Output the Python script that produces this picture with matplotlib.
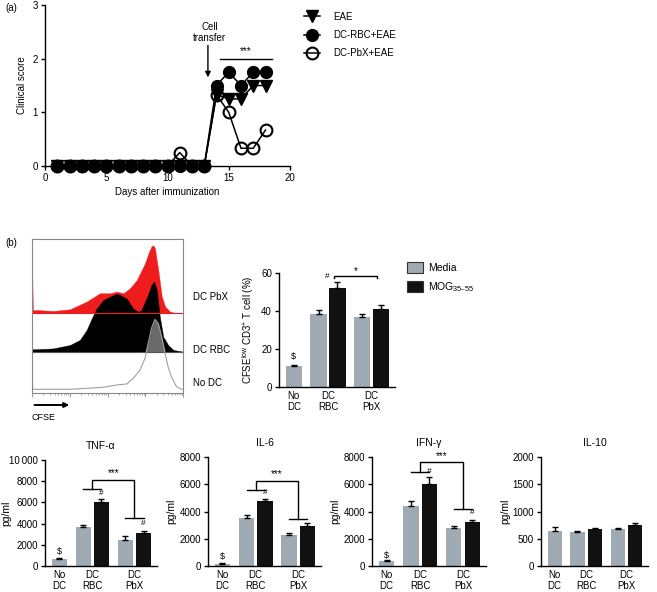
import numpy as np
import matplotlib
matplotlib.use("Agg")
import matplotlib.pyplot as plt
from matplotlib.patches import Patch, FancyArrowPatch
from matplotlib.ticker import FixedLocator, NullFormatter

plt.rcParams['font.family'] = ['Liberation Sans', 'DejaVu Sans']
plt.rcParams['font.size'] = 7
plt.rcParams['axes.linewidth'] = 1.0
plt.rcParams['xtick.major.width'] = 1.0
plt.rcParams['ytick.major.width'] = 1.0
plt.rcParams['xtick.direction'] = 'out'
plt.rcParams['ytick.direction'] = 'out'

W, H = 657, 592
GRAY = '#a0aab2'

# ---- (a) clinical score
days = list(range(1, 19))
eae = [0] * 13 + [1.33, 1.25, 1.25, 1.5, 1.5]
dc_rbc = [0] * 13 + [1.5, 1.75, 1.5, 1.75, 1.75]
dc_pbx = [0] * 10 + [0.25, 0, 0, 1.33, 1.0, 0.33, 0.33, 0.67]

# ---- (b) CFSE histograms (x in decades, height in px above track baseline)
red_dec = [0, 0.03, 0.13, 0.57, 1.01, 1.45, 1.80, 2.07, 2.24, 2.42, 2.59, 2.77, 2.86, 2.99,
           3.08, 3.16, 3.21, 3.25, 3.34, 3.43, 3.52, 3.65, 3.82, 4.0]
red_h = [74, 3, 3.3, 2.3, 4, 11.7, 20, 20, 21.7, 20, 25, 33, 40, 50,
         60, 67, 68, 65, 43, 17, 6.7, 1.7, 0, 0]
blk_dec = [0, 0.03, 0.57, 1.01, 1.27, 1.45, 1.58, 1.71, 1.89, 2.07, 2.24, 2.33, 2.51, 2.68,
           2.81, 2.90, 2.99, 3.08, 3.16, 3.23, 3.30, 3.38, 3.47, 3.60, 3.74, 4.0]
blk_h = [4, 2.3, 3.3, 6.7, 11.7, 21.7, 33, 43, 51.7, 55, 58, 56.7, 53, 43,
         40, 41.7, 50, 58, 66.7, 70, 61.7, 35, 15, 6.7, 1.7, 0]
gry_dec = [0, 0.03, 0.13, 1.01, 1.89, 2.24, 2.51, 2.68, 2.86, 2.99, 3.08, 3.16, 3.25, 3.34,
           3.43, 3.52, 3.60, 3.69, 3.82, 3.96, 4.0]
gry_h = [20, 0.7, 0.7, 0.7, 2.7, 5, 6, 11.7, 20, 31.7, 48, 61.7, 70.7, 66.7,
         53, 36.7, 23, 13, 3.3, 0.7, 0.5]
track_names = ['DC PbX', 'DC RBC', 'No DC']

# ---- bar charts
groups = ['No\nDC', 'DC\nRBC', 'DC\nPbX']
prolif_media = [11, 38.5, 37]
prolif_media_err = [0.5, 1.8, 1.6]
prolif_mog = [52, 41]
prolif_mog_err = [3.2, 2.2]

cyto_names = ['TNF-α', 'IL-6', 'IFN-γ', 'IL-10']
cyto_media = [[650, 3700, 2500], [150, 3500, 2300], [400, 4400, 2800], [650, 620, 670]]
cyto_media_err = [[80, 150, 300], [60, 250, 150], [50, 400, 150], [60, 15, 20]]
cyto_mog = [[6050, 3100], [4800, 2900], [6000, 3200], [680, 750]]
cyto_mog_err = [[300, 200], [150, 250], [550, 200], [15, 40]]
cyto_ymax = [10000, 8000, 8000, 2000]
cyto_ystep = [2000, 2000, 2000, 500]
# bracket levels: [top, rbc group, pbx group] or None
cyto_brackets = [[8100, 7300, 4550], [6270, 5590, 3450], [7600, 6890, 4170], None]
cyto_hash = [[6800, 4050], [5370, None], [6900, 3900], None]
cyto_dollar = [1350, 690, 800, None]

pos_media = [0, 1.33, 3.68]
pos_mog = [2.35, 4.7]
pos_ticks = [0, 1.84, 4.19]


def box(l, t, r, b):
    return [l / W, 1 - b / H, (r - l) / W, (b - t) / H]


def prism(ax):
    for s in ['top', 'right']:
        ax.spines[s].set_visible(False)
    ax.tick_params(length=3, pad=2)


fig = plt.figure(figsize=(W / 100, H / 100), dpi=100)

# ================= (a)
ax = fig.add_axes(box(45, 5, 290, 166))
prism(ax)
ms = 8.5
ax.plot(days, eae, color='black', lw=1.1, marker='v', ms=ms, clip_on=False)
ax.plot(days, dc_rbc, color='black', lw=1.1, marker='o', ms=ms, clip_on=False)
ax.plot(days, dc_pbx, color='black', lw=1.1, marker='o', ms=ms, mfc='none', mew=1.5,
        clip_on=False)
ax.set_xlim(0, 20)
ax.set_ylim(0, 3)
ax.set_xticks([0, 5, 10, 15, 20])
ax.set_yticks([0, 1, 2, 3])
ax.set_xlabel('Days after immunization', labelpad=3)
ax.set_ylabel('Clinical score', labelpad=4)
ax.annotate('', xy=(13.3, 1.6), xytext=(13.3, 2.3),
            arrowprops=dict(arrowstyle='-|>', color='black', lw=1.0, mutation_scale=8))
ax.text(13.45, 2.49, 'Cell\ntransfer', ha='center', va='center', linespacing=1.2)
ax.plot([14.3, 18.5], [1.99, 1.99], color='black', lw=1.0)
ax.text(16.4, 2.05, '***', ha='center', va='bottom')
fig.legend(handles=ax.get_lines(), labels=['EAE', 'DC-RBC+EAE', 'DC-PbX+EAE'],
           loc='upper left', bbox_to_anchor=(300 / W, 1 - 8 / H), frameon=False,
           handlelength=1.7, labelspacing=0.85, handletextpad=1.3, borderaxespad=0)
fig.text(5 / W, 1 - 8 / H, '(a)', ha='left', va='center')

# ================= (b) histogram
axh = fig.add_axes(box(31.7, 239.3, 183.3, 393.3))
b_red, b_blk, b_gry = 80, 41.6, 3.3
axh.set_xscale('log')
axh.set_xlim(1, 1e4)
axh.set_ylim(0, 154)
x = 10 ** np.array(red_dec)
axh.fill_between(x, b_red, b_red + np.array(red_h), color='#ee1c1c', lw=0.3)
x = 10 ** np.array(blk_dec)
axh.fill_between(x, b_blk, b_blk + np.array(blk_h), color='black', lw=0.3)
axh.axhline(b_red, color='#ee1c1c', lw=0.8)
axh.axhline(b_blk, color='#555555', lw=0.8)
x = 10 ** np.array(gry_dec)
yg = b_gry + np.array(gry_h)
axh.fill_between(x, b_blk, np.maximum(yg, b_blk), color='#6a6a6a', lw=0)
axh.plot(x, yg, color='#a0a0a0', lw=0.8)
for s in axh.spines.values():
    s.set_color('#888888')
    s.set_linewidth(0.8)
axh.set_yticks([])
axh.xaxis.set_major_locator(FixedLocator([1, 10, 100, 1000, 10000]))
axh.xaxis.set_minor_locator(FixedLocator([m * 10 ** e for e in range(4) for m in range(2, 10)]))
axh.xaxis.set_major_formatter(NullFormatter())
axh.xaxis.set_minor_formatter(NullFormatter())
axh.tick_params(axis='x', which='major', length=3, width=0.6, color='#888888')
axh.tick_params(axis='x', which='minor', length=1.5, width=0.5, color='#888888')
for name, yy in zip(track_names, [297, 350, 383]):
    fig.text(193 / W, 1 - yy / H, name, ha='left', va='center', fontsize=7)
fig.text(5 / W, 1 - 243 / H, '(b)', ha='left', va='center')
fig.add_artist(FancyArrowPatch(
    (31.7 / W, 1 - 405 / H), (72 / W, 1 - 405 / H), transform=fig.transFigure,
    arrowstyle='-|>', mutation_scale=7, lw=1.4, color='black'))
fig.text(32 / W, 1 - 417 / H, 'CFSE', ha='left', va='center', fontsize=6.5)

# ================= (b) proliferation bars
axb = fig.add_axes(box(279, 273, 395, 387))
prism(axb)
axb.bar(pos_media, prolif_media, width=0.88, color=GRAY)
axb.bar(pos_mog, prolif_mog, width=0.88, color='#111111')
axb.errorbar(pos_media, prolif_media, yerr=[[0] * 3, prolif_media_err], fmt='none',
             ecolor='black', elinewidth=1.0, capsize=2.5, capthick=1.0)
axb.errorbar(pos_mog, prolif_mog, yerr=[[0] * 2, prolif_mog_err], fmt='none',
             ecolor='black', elinewidth=1.0, capsize=2.5, capthick=1.0)
axb.set_xlim(-0.8, 5.45)
axb.set_ylim(0, 60)
axb.set_yticks([0, 20, 40, 60])
axb.set_xticks(pos_ticks)
axb.set_xticklabels(groups, linespacing=1.1)
axb.tick_params(axis='x', length=0, pad=3)
axb.set_ylabel('CFSE$^{\\mathregular{low}}$ CD3$^{\\mathregular{+}}$ T cell (%)', labelpad=4)
axb.text(pos_media[0], 13.5, '$', ha='center', va='bottom', fontsize=6.5)
axb.text(pos_mog[0] - 0.55, 56.5, '#', ha='center', va='bottom', fontsize=6)
axb.plot([pos_mog[0] - 0.2, pos_mog[0] - 0.2, pos_mog[1] - 0.2, pos_mog[1] - 0.2],
         [57.2, 58.2, 58.2, 57.2], color='black', lw=1.0)
axb.text((pos_mog[0] + pos_mog[1]) / 2 - 0.2, 58.6, '*', ha='center', va='bottom')
fig.legend(handles=[Patch(facecolor=GRAY, edgecolor='#333333', lw=0.8),
                    Patch(facecolor='#111111', edgecolor='#333333', lw=0.8)],
           labels=['Media', 'MOG$_{\\mathregular{35–55}}$'], loc='upper left',
           bbox_to_anchor=(403 / W, 1 - 258 / H), frameon=False, fontsize=7.5,
           handlelength=1.5, handleheight=1.2, labelspacing=0.7, handletextpad=0.5,
           borderaxespad=0)

# ================= cytokines
boxes = [(45, 460, 157, 566), (208, 457, 321, 566), (372, 457, 486, 566), (541, 457, 648, 566)]
label_x = [-0.30, -0.28, -0.28, -0.29]
for i, name in enumerate(cyto_names):
    axc = fig.add_axes(box(*boxes[i]))
    prism(axc)
    axc.bar(pos_media, cyto_media[i], width=0.84, color=GRAY)
    axc.bar(pos_mog, cyto_mog[i], width=0.84, color='#111111')
    axc.errorbar(pos_media, cyto_media[i], yerr=[[0] * 3, cyto_media_err[i]], fmt='none',
                 ecolor='black', elinewidth=1.0, capsize=2.3, capthick=1.0)
    axc.errorbar(pos_mog, cyto_mog[i], yerr=[[0] * 2, cyto_mog_err[i]], fmt='none',
                 ecolor='black', elinewidth=1.0, capsize=2.3, capthick=1.0)
    axc.set_xlim(-0.8, 5.45)
    axc.set_ylim(0, cyto_ymax[i])
    ticks = list(range(0, cyto_ymax[i] + 1, cyto_ystep[i]))
    axc.set_yticks(ticks)
    axc.set_yticklabels(['10\u2009000' if t == 10000 else str(t) for t in ticks])
    axc.set_xticks(pos_ticks)
    axc.set_xticklabels(groups, linespacing=1.1)
    axc.tick_params(axis='x', length=0, pad=3)
    axc.set_ylabel('pg/ml', fontsize=7.5)
    axc.yaxis.set_label_coords(label_x[i], 0.5)
    axc.set_title(name, fontsize=7.5, pad=8)
    ym = cyto_ymax[i]
    if cyto_dollar[i] is not None:
        axc.text(pos_media[0], cyto_dollar[i], '$', ha='center', va='center', fontsize=6.5)
    if cyto_hash[i] is not None:
        for p, v in zip(pos_mog, cyto_hash[i]):
            if v is not None:
                axc.text(p, v, '#', ha='center', va='center', fontsize=6)
    if cyto_brackets[i] is not None:
        top, lvl_r, lvl_p = cyto_brackets[i]
        cr = (pos_media[1] + pos_mog[0]) / 2
        cp = (pos_media[2] + pos_mog[1]) / 2
        axc.plot([pos_media[1], pos_mog[0]], [lvl_r, lvl_r], color='black', lw=1.0)
        axc.plot([pos_media[2], pos_mog[1]], [lvl_p, lvl_p], color='black', lw=1.0)
        axc.plot([cr, cr, cp, cp], [lvl_r, top, top, lvl_p], color='black', lw=1.0)
        axc.text((cr + cp) / 2, top + ym * 0.015, '***', ha='center', va='bottom')

fig.savefig('out.png', dpi=100)
